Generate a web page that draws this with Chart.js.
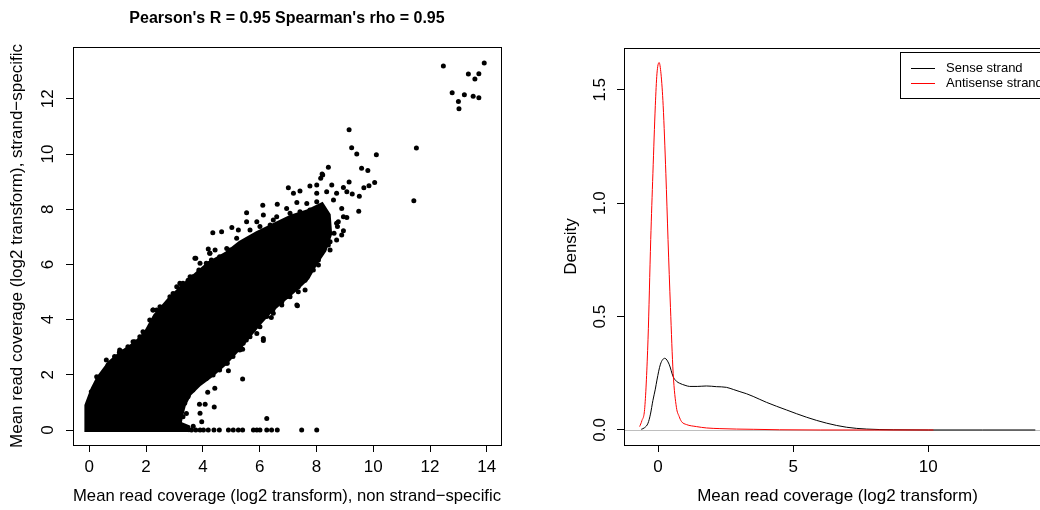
<!DOCTYPE html>
<html>
<head>
<meta charset="utf-8">
<script src="https://cdn.jsdelivr.net/npm/chart.js@4.4.1/dist/chart.umd.min.js"></script>
<style>
html, body { margin:0; padding:0; background:#fff; overflow:hidden; width:1040px; height:510px; }
#left { position:absolute; left:0; top:0; width:520px; height:510px; }
#right { position:absolute; left:520px; top:0; width:560px; height:510px; }
</style>
</head>
<body>
<div id="left"><canvas id="scatterChart"></canvas></div>
<div id="right"><canvas id="densityChart"></canvas></div>
<script>
/*
 * Strand-specific vs non strand-specific read coverage
 */

var FONT = "'Liberation Sans', Arial, Helvetica, sans-serif";

// left panel
var scatterTitle = "Pearson's R = 0.95 Spearman's rho = 0.95";
var scatterXLabel = 'Mean read coverage (log2 transform), non strand\u2212specific';
var scatterYLabel = 'Mean read coverage (log2 transform), strand\u2212specific';
var scatterXTicks = [0, 2, 4, 6, 8, 10, 12, 14];
var scatterYTicks = [0, 2, 4, 6, 8, 10, 12];
var scatterYTickLabels = ['0', '2', '4', '6', '8', '10', '12'];

// outline of the solid mass of overlapping genes
var cloudX = [-0.12, -0.12, 0.10, 0.30, 0.70, 1.10, 1.60, 1.95, 2.30, 2.80, 3.30, 3.80, 4.20, 4.80, 5.30, 5.90, 6.50, 7.10, 7.70, 8.20,
  8.45, 8.50, 8.30, 8.00, 7.70, 7.30, 6.90, 6.40, 6.00, 5.60, 5.20, 4.80, 4.30, 3.90, 3.55, 3.35, 3.25, 3.20, 3.50, 3.55];
var cloudY = [-0.07, 0.90, 1.50, 1.90, 2.45, 2.80, 3.15, 3.50, 4.15, 4.75, 5.25, 5.70, 6.05, 6.40, 6.80, 7.15, 7.45, 7.75, 7.95, 8.20,
  7.80, 7.10, 6.50, 6.05, 5.50, 5.10, 4.75, 4.30, 3.85, 3.35, 2.85, 2.40, 1.95, 1.65, 1.30, 0.90, 0.50, 0.25, 0.12, -0.07];

// single genes around the mass
var geneX = [12.47, 13.91, 13.35, 13.72, 13.58, 12.78, 13.21, 13.52, 13.72, 13.00, 13.02,
  9.15, 9.24, 9.42, 10.11, 11.52, 11.43, 9.59, 9.81, 10.05, 9.85, 9.67, 9.51, 9.49, 9.26, 9.15,
  8.42, 8.20, 8.15, 8.22, 7.01, 7.42, 7.77, 8.01, 8.54, 8.95, 7.19, 8.01, 8.36, 8.71, 9.07,
  6.11, 6.62, 6.95, 7.31, 7.66, 8.01, 8.60, 8.89, 8.95, 5.54, 6.13, 5.54, 5.02, 4.66, 4.35, 5.25,
  5.90, 6.48, 8.24, 8.71, 8.89, 8.07, 8.48, 8.24, 7.71, 8.95, 8.74, 8.42, 8.13, 8.07, 8.07, 7.60,
  7.36, 6.95, 9.07, 8.77, 8.62, 8.34, 3.72, 4.19, 4.43, 4.96, 3.87, 7.66, 7.66, 7.31, 7.60, 7.31,
  6.95, 6.78, 7.33, 6.46, 6.41, 6.48, 6.13, 6.13, 5.90, 5.40, 5.35, 5.40, 4.90, 4.86, 4.42, 4.17,
  4.40, 4.08, 3.88, 3.90, 3.96, 3.66, 3.42, 3.30, 6.25,
  3.08, 2.84, 2.37, 3.25, 3.54, 3.86, 3.75, 4.24, 4.24, 2.13, 1.95, 1.88, 1.67, 1.54, 1.43, 1.23,
  1.19, 1.06, 0.91, 0.79, 0.66, 0.60, 0.44, 0.26, 0.14, 0.05, 0.07, 2.31,
  0.42, 0.89, 1.07, 1.36, 1.60, 1.78, 1.89, 2.24, 2.48, 2.36, 2.95, 3.30, 3.48, 3.65, 4.12, 4.30,
  4.59, 4.89, 2.25, 2.49, 3.19, 3.55, 3.90, 4.25, 4.84, 5.19, 5.66, 6.01, 6.37, 6.60, 7.07, 7.42,
  7.77, 8.01, 8.24, 8.71, 8.48, 8.01, 7.89, 7.54, 7.36, 7.07, 6.78, 6.48, 6.25, 6.01, 5.66, 5.42,
  6.00, 5.77, 5.53, 5.30, 5.06, 4.83, 4.59, 4.36, 4.12, 3.83, 3.65, 3.48, 3.36,
  3.60, 3.75, 3.90, 4.02, 4.19, 4.39, 4.58, 4.90, 5.07, 5.25, 5.40, 5.78, 5.90, 6.01, 6.25, 6.42,
  6.62, 7.48, 8.01];
var geneY = [13.19, 13.30, 12.90, 12.91, 12.72, 12.22, 12.15, 12.09, 12.04, 11.90, 11.64,
  10.88, 10.23, 10.00, 9.97, 10.22, 8.31, 9.48, 9.40, 8.97, 8.85, 8.78, 8.47, 7.93, 8.55, 8.99,
  9.52, 9.28, 9.12, 9.24, 8.78, 8.66, 8.84, 8.88, 8.88, 8.79, 8.58, 8.58, 8.63, 8.58, 8.63,
  8.14, 8.18, 8.03, 8.24, 8.21, 8.27, 8.33, 8.03, 7.73, 7.87, 7.79, 7.55, 7.34, 7.18, 7.15, 7.25,
  7.55, 7.61, 7.37, 7.49, 7.07, 7.00, 6.82, 6.64, 6.88, 7.22, 7.37, 6.70, 6.46, 5.98, 6.16, 5.43,
  5.01, 4.83, 7.70, 7.55, 7.13, 7.13, 6.22, 6.56, 6.52, 6.52, 5.77, 5.98, 5.55, 5.32, 5.07, 4.53,
  4.86, 4.53, 4.50, 4.35, 4.08, 4.23, 3.32, 3.24, 3.50, 2.93, 2.96, 1.85, 2.15, 2.42, 1.51, 1.37,
  0.83, 0.93, 0.93, 0.61, 0.30, 0.14, 0.60, 0.48, 0.42,
  5.19, 4.83, 4.35, 5.25, 5.43, 5.80, 6.22, 6.04, 6.40, 3.99, 3.50, 3.38, 3.08, 3.20, 2.92, 2.74,
  2.84, 2.82, 2.42, 2.36, 2.36, 2.54, 1.91, 1.93, 1.42, 1.21, 1.39, 4.05,
  1.75, 2.66, 2.90, 3.02, 3.20, 3.38, 3.56, 4.35, 4.23, 4.05, 4.95, 5.32, 5.43, 5.55, 6.04, 6.16,
  6.28, 6.40, 4.35, 4.47, 5.32, 5.55, 6.04, 6.40, 6.58, 6.95, 7.25, 7.37, 7.43, 7.73, 7.85, 7.91,
  7.97, 7.73, 7.55, 6.88, 6.52, 6.28, 5.80, 5.43, 5.19, 4.83, 4.65, 4.41, 4.11, 3.74, 3.38, 3.14,
  3.99, 3.62, 3.26, 2.90, 2.66, 2.42, 2.17, 1.99, 1.87, 1.69, 1.45, 1.21, 0.97,
  0, 0, 0, 0, 0, 0, 0, 0, 0, 0, 0, 0, 0, 0, 0, 0,
  0, 0, 0];

// right panel
var densityXLabel = 'Mean read coverage (log2 transform)';
var densityYLabel = 'Density';
var densityXTicks = [0, 5, 10];
var densityYTicks = [0, 0.5, 1, 1.5];
var densityYTickLabels = ['0.0', '0.5', '1.0', '1.5'];
var seriesNames = ['Sense strand', 'Antisense strand'];
var seriesColors = ['#000000', '#ff0000'];

var senseX = [-0.62, -0.5, -0.37, -0.28, -0.19, -0.1, -0.04, 0.09, 0.25, 0.41, 0.56, 0.68, 0.80, 1.0, 1.17, 1.45, 1.79, 2.16, 2.53, 2.8, 3.03, 3.27, 3.52, 4.01, 4.76, 5.50, 6.24, 6.98, 7.72, 8.70, 10, 12, 13.96];
var senseY = [0.003, 0.01, 0.03, 0.07, 0.13, 0.18, 0.22, 0.29, 0.316, 0.29, 0.235, 0.215, 0.206, 0.197, 0.192, 0.192, 0.194, 0.191, 0.188, 0.178, 0.169, 0.16, 0.148, 0.122, 0.088, 0.056, 0.03, 0.012, 0.004, 0.001, 0, 0, 0];

var antisenseX = [-0.68, -0.6, -0.49, -0.37, -0.27, -0.19, -0.10, -0.04, 0.04, 0.11, 0.19, 0.29, 0.37, 0.46, 0.56, 0.68, 0.78, 0.87, 1.05, 1.42, 1.79, 2.29, 2.9, 3.52, 4.5, 6, 8, 10.19];
var antisenseY = [0.015, 0.04, 0.10, 0.40, 0.84, 1.13, 1.43, 1.57, 1.62, 1.57, 1.43, 1.13, 0.84, 0.54, 0.25, 0.10, 0.06, 0.037, 0.024, 0.015, 0.009, 0.006, 0.004, 0.003, 0.001, 0, 0, 0];

function toPoints(xs, ys) {
  return xs.map(function(x, i) { return { x: x, y: ys[i] }; });
}

// R-like frame: box, rotated y tick labels, main title, legend, zero line
var rFramePlugin = {
  id: 'rFrame',
  beforeDatasetsDraw: function(chart, args, opts) {
    if (!opts.zeroLine) return;
    var ctx = chart.ctx, a = chart.chartArea;
    var y0 = Math.round(chart.scales.y.getPixelForValue(0)) + 0.5;
    ctx.save();
    ctx.strokeStyle = '#bebebe';
    ctx.lineWidth = 1;
    ctx.beginPath(); ctx.moveTo(a.left, y0); ctx.lineTo(a.right, y0); ctx.stroke();
    ctx.restore();
  },
  afterDraw: function(chart, args, opts) {
    var ctx = chart.ctx, a = chart.chartArea;
    ctx.save();
    ctx.strokeStyle = '#000';
    ctx.lineWidth = 1;
    ctx.strokeRect(Math.round(a.left) + 0.5, Math.round(a.top) + 0.5, Math.round(a.right - a.left), Math.round(a.bottom - a.top));

    ctx.fillStyle = '#000';
    ctx.font = '17px ' + FONT;
    ctx.textAlign = 'center';
    ctx.textBaseline = 'middle';
    var ys = chart.scales.y;
    opts.yTicks.forEach(function(v, i) {
      ctx.save();
      ctx.translate(opts.yLabelX, ys.getPixelForValue(v));
      ctx.rotate(-Math.PI / 2);
      ctx.fillText(opts.yLabels[i], 0, 0);
      ctx.restore();
    });

    if (opts.title) {
      ctx.font = 'bold 16px ' + FONT;
      ctx.fillText(opts.title, (a.left + a.right) / 2, opts.titleY);
    }

    if (opts.legend) {
      var lw = 151, lh = 46;
      var lx = a.right - lw, ly = a.top + 4;
      ctx.strokeStyle = '#000';
      ctx.strokeRect(Math.round(lx) + 0.5, Math.round(ly) + 0.5, lw, lh);
      ctx.font = '13px ' + FONT;
      ctx.textAlign = 'left';
      chart.data.datasets.forEach(function(ds, i) {
        var rowY = Math.round(ly + 16 + i * 15) + 0.5;
        ctx.strokeStyle = ds.borderColor;
        ctx.beginPath(); ctx.moveTo(lx + 11, rowY); ctx.lineTo(lx + 35, rowY); ctx.stroke();
        ctx.fillText(ds.label, lx + 46, rowY);
      });
    }
    ctx.restore();
  }
};

function rAxis(min, max, ticks, size, title, titlePad, isX) {
  return {
    type: 'linear',
    min: min,
    max: max,
    afterBuildTicks: function(scale) { scale.ticks = ticks.map(function(v) { return { value: v }; }); },
    afterFit: function(scale) { if (isX) scale.height = size; else scale.width = size; },
    grid: { display: true, drawOnChartArea: false, drawTicks: true, tickLength: 7, color: '#000', lineWidth: 1 },
    border: { display: true, color: '#000', width: 1 },
    ticks: { display: isX, color: '#000', padding: 5, maxRotation: 0, font: { size: 17, family: FONT } },
    title: { display: true, text: title, color: '#000', font: { size: 17, family: FONT }, padding: titlePad }
  };
}

Chart.defaults.font.family = FONT;

new Chart(document.getElementById('scatterChart').getContext('2d'), {
  type: 'scatter',
  data: {
    datasets: [
      { label: 'cloud', data: toPoints(cloudX, cloudY), showLine: true, fill: 'shape', tension: 0,
        backgroundColor: '#000', borderColor: '#000', borderWidth: 3, pointRadius: 0 },
      { label: 'genes', data: toPoints(geneX, geneY), backgroundColor: '#000', borderWidth: 0, pointRadius: 2.5 }
    ]
  },
  options: {
    responsive: true, maintainAspectRatio: false, animation: false, events: [],
    layout: { padding: { top: 47, right: 19, left: 0, bottom: 0 } },
    plugins: {
      legend: { display: false }, tooltip: { enabled: false },
      rFrame: { yTicks: scatterYTicks, yLabels: scatterYTickLabels, yLabelX: 48, title: scatterTitle, titleY: 19 }
    },
    scales: {
      x: rAxis(-0.574, 14.5, scatterXTicks, 65, scatterXLabel, { bottom: 3 }, true),
      y: rAxis(-0.543, 13.877, scatterYTicks, 73, scatterYLabel, { top: 7, bottom: 0 }, false)
    }
  },
  plugins: [rFramePlugin]
});

new Chart(document.getElementById('densityChart').getContext('2d'), {
  type: 'scatter',
  data: {
    datasets: [
      { label: seriesNames[0], data: toPoints(senseX, senseY), showLine: true, cubicInterpolationMode: 'monotone',
        borderColor: seriesColors[0], borderWidth: 1, pointRadius: 0, fill: false, order: 2 },
      { label: seriesNames[1], data: toPoints(antisenseX, antisenseY), showLine: true, cubicInterpolationMode: 'monotone',
        borderColor: seriesColors[1], borderWidth: 1, pointRadius: 0, fill: false, order: 1 }
    ]
  },
  options: {
    responsive: true, maintainAspectRatio: false, animation: false, events: [],
    layout: { padding: { top: 48, right: 29, left: 0, bottom: 0 } },
    plugins: {
      legend: { display: false }, tooltip: { enabled: false },
      rFrame: { yTicks: densityYTicks, yLabels: densityYTickLabels, yLabelX: 80, legend: true, zeroLine: true }
    },
    scales: {
      x: rAxis(-1.259, 14.54, densityXTicks, 65, densityXLabel, { bottom: 3 }, true),
      y: rAxis(-0.0662, 1.684, densityYTicks, 104, densityYLabel, { top: 41, bottom: 0 }, false)
    }
  },
  plugins: [rFramePlugin]
});
</script>
</body>
</html>
